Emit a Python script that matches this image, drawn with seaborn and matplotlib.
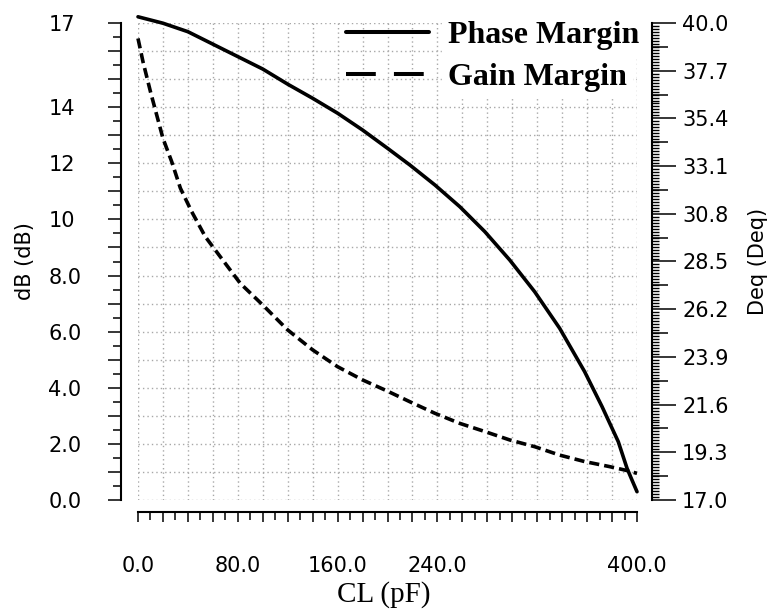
import numpy as np
import pandas as pd
import matplotlib
matplotlib.use("Agg")
import matplotlib.pyplot as plt
import seaborn as sns
from matplotlib.lines import Line2D
from matplotlib.ticker import FixedLocator, FuncFormatter, NullFormatter

# Load capacitance sweep (pF)
cl_phase = [0, 20, 40, 60, 80, 100, 120, 140, 160, 180, 200, 218, 238, 258,
            278, 298, 318, 338, 358, 372, 385, 392, 396, 400]
phase_margin = [40.30, 39.99, 39.58, 38.98, 38.38, 37.78, 37.05, 36.37, 35.65,
                34.84, 33.96, 33.15, 32.19, 31.14, 29.94, 28.57, 27.04, 25.28,
                23.19, 21.50, 19.81, 18.53, 17.96, 17.40]

cl_gain = [0, 4, 10, 15, 20, 27, 34, 43, 54, 70, 82, 100, 120, 140, 160, 180,
           200, 218, 238, 258, 278, 298, 318, 338, 358, 378, 392, 400]
gain_margin = [16.45, 15.62, 14.55, 13.72, 12.89, 12.06, 11.11, 10.28, 9.38,
               8.43, 7.72, 6.95, 6.06, 5.35, 4.75, 4.28, 3.88, 3.50, 3.09, 2.73,
               2.44, 2.14, 1.90, 1.60, 1.37, 1.19, 1.05, 0.95]

x_tick_values = [0, 80, 160, 240, 400]
x_tick_labels = ["0.0", "80.0", "160.0", "240.0", "400.0"]
db_tick_values = [0, 2, 4, 6, 8, 10, 12, 14, 17]
db_tick_labels = ["0.0", "2.0", "4.0", "6.0", "8.0", "10", "12", "14", "17"]
deg_tick_labels = ["17.0", "19.3", "21.6", "23.9", "26.2", "28.5", "30.8",
                   "33.1", "35.4", "37.7", "40.0"]
deg_tick_values = [float(s) for s in deg_tick_labels]

legend_labels = ["Phase Margin", "Gain Margin"]

sns.set_theme(style="white", rc={
    "axes.edgecolor": "black", "xtick.color": "black", "ytick.color": "black",
    "text.color": "black", "axes.labelcolor": "black",
})
plt.rcParams["font.family"] = ["DejaVu Sans"]

fig = plt.figure(figsize=(7.72, 6.15), dpi=100)
ax = fig.add_axes([138 / 772, 115 / 615, 499 / 772, 477 / 615])
ax2 = ax.twinx()

gain_df = pd.DataFrame({"CL": cl_gain, "GM": gain_margin})
phase_df = pd.DataFrame({"CL": cl_phase, "PM": phase_margin})

sns.lineplot(data=gain_df, x="CL", y="GM", ax=ax, color="black",
             linewidth=2.6, estimator=None, sort=False)
gm_line = ax.lines[-1]
gm_line.set_dashes([2.8, 1.4])
gm_line.set_clip_on(False)

sns.lineplot(data=phase_df, x="CL", y="PM", ax=ax2, color="black",
             linewidth=2.6, estimator=None, sort=False)
pm_line = ax2.lines[-1]
pm_line.set_clip_on(False)

ax.set_xlim(0, 400)
ax.set_ylim(0, 17)
ax2.set_ylim(17, 40)

# spines: detached left / bottom / right axes
for s in ["top", "right"]:
    ax.spines[s].set_visible(False)
for s in ["top", "left", "bottom"]:
    ax2.spines[s].set_visible(False)
ax.spines["left"].set_position(("outward", 12.2))
ax.spines["bottom"].set_position(("outward", 8.6))
ax2.spines["right"].set_position(("outward", 10.8))
for sp in [ax.spines["left"], ax.spines["bottom"], ax2.spines["right"]]:
    sp.set_linewidth(1.5)

# x axis ticks
x_label_map = dict(zip(x_tick_values, x_tick_labels))
ax.xaxis.set_major_locator(FixedLocator(np.arange(0, 401, 20)))
ax.xaxis.set_minor_locator(FixedLocator(np.arange(10, 400, 20)))
ax.xaxis.set_major_formatter(FuncFormatter(
    lambda v, p: x_label_map.get(int(round(v)), "")))
ax.tick_params(axis="x", which="major", direction="out", length=7.5,
               width=1.1, pad=24, labelsize=15, bottom=True)
ax.tick_params(axis="x", which="minor", direction="out", length=6,
               width=1.1, bottom=True)

# left (dB) ticks
db_label_map = dict(zip(db_tick_values, db_tick_labels))
ax.yaxis.set_major_locator(FixedLocator(np.arange(0, 18, 1)))
ax.yaxis.set_minor_locator(FixedLocator(np.arange(0.5, 17, 1)))
ax.yaxis.set_major_formatter(FuncFormatter(
    lambda v, p: db_label_map.get(int(round(v)), "")))
ax.tick_params(axis="y", which="major", direction="out", length=9.4,
               width=1.1, pad=43, labelsize=15, left=True)
ax.tick_params(axis="y", which="minor", direction="out", length=5.8,
               width=1.1, left=True)
for lbl in ax.get_yticklabels():
    lbl.set_horizontalalignment("left")

# right (deg) ticks
ax2.yaxis.set_major_locator(FixedLocator(deg_tick_values))
ax2.yaxis.set_major_formatter(FuncFormatter(lambda v, p: f"{v:.1f}"))
ax2.yaxis.set_minor_locator(FixedLocator(np.arange(17, 40.0001, 2.3 / 16)))
ax2.tick_params(axis="y", which="major", direction="out", length=17.3,
                width=1.1, pad=4.3, labelsize=15, right=True)
ax2.tick_params(axis="y", which="minor", direction="out", length=5,
                width=1.0, right=True)

# mid-interval ticks on the right axis
ax3 = ax.twinx()
ax3.set_ylim(17, 40)
for s in ax3.spines.values():
    s.set_visible(False)
ax3.spines["right"].set_position(("outward", 10.8))
mids = [v + 1.15 for v in deg_tick_values[:-1]]
ax3.yaxis.set_major_locator(FixedLocator(mids))
ax3.yaxis.set_major_formatter(NullFormatter())
ax3.yaxis.set_minor_locator(FixedLocator([]))
ax3.tick_params(axis="y", which="major", direction="out", length=11.5,
                width=1.1, right=True)

# dotted grid
ax.grid(True, which="major", color="#a8a8a8", linestyle=(0, (1, 2.2)),
        linewidth=1.0)
ax.set_axisbelow(True)

# axis labels
ax.set_xlabel("CL (pF)", family=["Liberation Serif"], fontsize=21)
ax.xaxis.set_label_coords(0.493, -0.170)
ax.set_ylabel("dB (dB)", fontsize=15)
ax.yaxis.set_label_coords(-0.2064, 0.5)
ax2.set_ylabel("Deq (Deq)", fontsize=15)
ax2.yaxis.set_label_coords(1.222, 0.5)

# legend
handles = [
    Line2D([], [], color="black", linewidth=2.9),
    Line2D([], [], color="black", linewidth=2.9, dashes=[7.4, 4.5]),
]
leg = ax2.legend(handles, legend_labels, loc="upper right",
                 bbox_to_anchor=(639 / 772, 1 - 21 / 615),
                 bbox_transform=fig.transFigure, frameon=False,
                 borderpad=0, borderaxespad=0, handlelength=2.57,
                 handletextpad=0.6, labelspacing=0.38,
                 prop={"family": "Liberation Serif", "weight": "bold",
                       "size": 23})
for t in leg.get_texts():
    t.set_backgroundcolor("white")

fig.savefig("out.png", dpi=100, facecolor="white")
